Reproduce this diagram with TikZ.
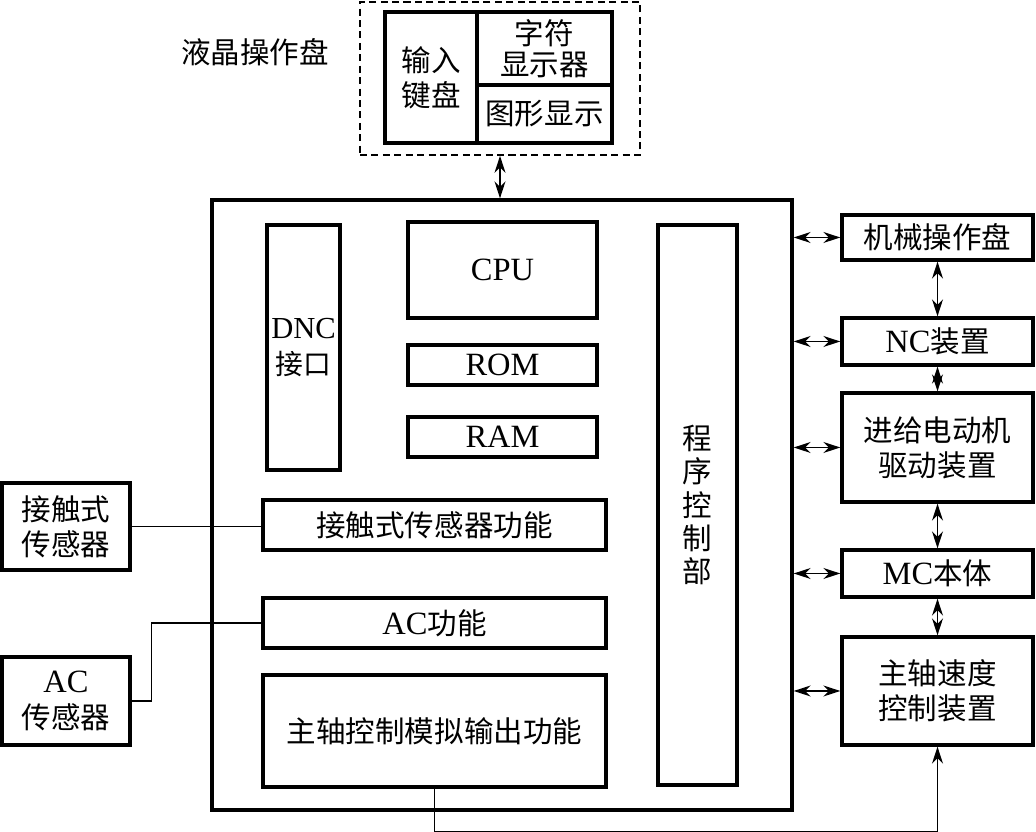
\documentclass[tikz,border=0pt]{standalone}
\usepackage{fontspec}
\setmainfont{Liberation Serif}[Scale=1.1]
\newfontfamily\cjk{Noto Sans CJK SC}
\usetikzlibrary{arrows.meta}
\newcommand{\zh}[1]{{\cjk #1}}

\begin{document}
\begin{tikzpicture}[
		blk/.style={draw, line width=1.9pt, inner sep=0pt, align=center, font=\fontsize{16.8}{20}\selectfont},
		wire/.style={line width=0.8pt},
		bidir/.style={line width=0.8pt, {Stealth[length=3.4mm,width=2.2mm]}-{Stealth[length=3.4mm,width=2.2mm]}}
	]
				\useasboundingbox (0, 0) rectangle (20.72, 16.64);
				
				% liquid crystal panel
				\node[draw, dash pattern=on 4pt off 2.5pt, line width=1pt, minimum width=5.6cm, minimum height=3.06cm] (panel) at (10.0, 15.07) {};
				\node[blk, minimum width=1.84cm, minimum height=2.62cm] (keyin) at (8.62, 15.09) {\zh{输入}\\\zh{键盘}};
				\node[blk, minimum width=2.7cm, minimum height=1.46cm, font=\fontsize{16.8}{17.5}\selectfont] (chars) at (10.89, 15.67) {\zh{字符}\\\zh{显示器}};
				\node[blk, minimum width=2.7cm, minimum height=1.16cm] (graph) at (10.89, 14.36) {\zh{图形显示}};
				\node[font=\fontsize{16.8}{20}\selectfont] (lcd) at (5.1, 15.6) {\zh{液晶操作盘}};
				
				% control unit
				\node[blk, minimum width=11.6cm, minimum height=12.2cm] (ctrl) at (10.04, 6.54) {};
				\node[blk, minimum width=1.46cm, minimum height=4.9cm, font=\fontsize{15.8}{20}\selectfont] (dnc) at (6.07, 9.69) {DNC\\\zh{接口}};
				\node[blk, minimum width=3.78cm, minimum height=1.92cm] (cpu) at (10.05, 11.24) {CPU};
				\node[blk, minimum width=3.78cm, minimum height=0.8cm] (rom) at (10.05, 9.34) {ROM};
				\node[blk, minimum width=3.78cm, minimum height=0.8cm] (ram) at (10.05, 7.9) {RAM};
				\node[blk, minimum width=1.58cm, minimum height=11.2cm, font=\fontsize{16.8}{18.8}\selectfont] (prog) at (13.95, 6.54) {\zh{程}\\\zh{序}\\\zh{控}\\\zh{制}\\\zh{部}};
				\node[blk, minimum width=6.86cm, minimum height=1.0cm] (touchf) at (8.69, 6.14) {\zh{接触式传感器功能}};
				\node[blk, minimum width=6.86cm, minimum height=1.0cm] (acf) at (8.69, 4.18) {AC\zh{功能}};
				\node[blk, minimum width=6.86cm, minimum height=2.24cm] (spout) at (8.69, 2.02) {\zh{主轴控制模拟输出功能}};
				
				% machine side
				\node[blk, minimum width=3.82cm, minimum height=0.9cm] (mop) at (18.75, 11.89) {\zh{机械操作盘}};
				\node[blk, minimum width=3.82cm, minimum height=0.94cm] (nc) at (18.75, 9.81) {NC\zh{装置}};
				\node[blk, minimum width=3.82cm, minimum height=2.18cm] (feed) at (18.75, 7.69) {\zh{进给电动机}\\\zh{驱动装置}};
				\node[blk, minimum width=3.82cm, minimum height=0.94cm] (mc) at (18.75, 5.17) {MC\zh{本体}};
				\node[blk, minimum width=3.82cm, minimum height=2.16cm] (spd) at (18.75, 2.82) {\zh{主轴速度}\\\zh{控制装置}};
				
				% sensors
				\node[blk, minimum width=2.56cm, minimum height=1.74cm] (touch) at (1.32, 6.11) {\zh{接触式}\\\zh{传感器}};
				\node[blk, minimum width=2.56cm, minimum height=1.76cm] (acs) at (1.32, 2.62) {AC\\\zh{传感器}};
				
				% connections
				\draw[bidir] (panel.south) -- (panel.south |- ctrl.north);
				\foreach \b in {mop, nc, feed, mc, spd}
					\draw[bidir] (\b.west -| ctrl.east) -- (\b.west);
				\draw[bidir] (mop.south) -- (nc.north);
				\draw[bidir] (nc.south) -- (feed.north);
				\draw[bidir] (feed.south) -- (mc.north);
				\draw[bidir] (mc.south) -- (spd.north);
				
				\draw[wire] (touch.east) -- (touch.east -| touchf.west);
				\draw[wire] (acs.east) -- ++(0.4, 0) |- (acf.west);
				\draw[wire, -{Stealth[length=3.4mm,width=2.2mm]}] (spout.south) -- ++(0, -0.86) -| (spd.south);
			\end{tikzpicture}
\end{document}
